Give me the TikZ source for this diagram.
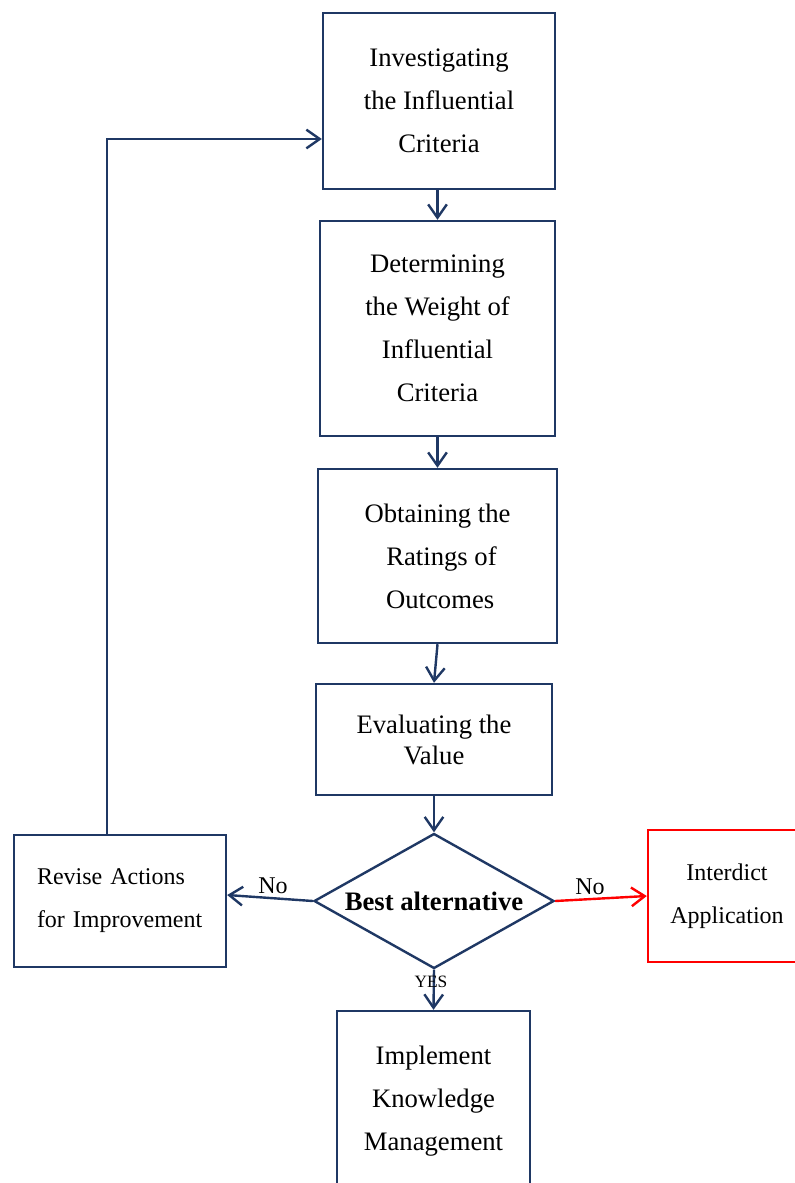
\documentclass[tikz,border=0pt]{standalone}
\usepackage{fontspec}
\setmainfont{Liberation Serif}
\usetikzlibrary{shapes.geometric,arrows.meta}
\definecolor{dblue}{RGB}{31,56,100}
\definecolor{pred}{RGB}{255,0,0}
\begin{document}
\begin{tikzpicture}[x=0.75pt,y=-0.75pt,
  box/.style={draw=dblue,line width=1.8pt,rectangle,inner sep=0pt,align=center,
    font=\fontsize{20}{32.25}\selectfont},
  conn/.style={draw=dblue,line width=1.8pt,-{Straight Barb[length=10pt,width=14pt]}},
  lbl/.style={inner sep=0pt,font=\fontsize{18}{20}\selectfont}]
\useasboundingbox (0,0) rectangle (795,1183);
\clip (0,0) rectangle (795,1183);
\fill[white] (0,0) rectangle (795,1183);

\node[box,minimum width=232*0.75pt,minimum height=176*0.75pt] (b1) at (439,101)
  {Investigating\\the Influential\\Criteria};
\node[box,minimum width=235*0.75pt,minimum height=215*0.75pt] (b2) at (437.5,328.5)
  {Determining\\the Weight of\\Influential\\Criteria};
\node[box,minimum width=239*0.75pt,minimum height=174*0.75pt] (b3) at (437.5,556)
  {Obtaining the\\\hspace*{6pt}Ratings of\\\hspace*{4pt}Outcomes};
\node[box,minimum width=236*0.75pt,minimum height=111*0.75pt,
  font=\fontsize{20}{23.25}\selectfont] (b4) at (434,739.5)
  {Evaluating the\\Value};
\node[draw=dblue,line width=1.8pt,diamond,aspect=1.78,inner sep=0pt,
  minimum width=240*0.75pt,minimum height=135*0.75pt,
  font=\fontsize{20}{24}\selectfont\bfseries] (dia) at (434,901) {Best alternative};
\node[box,minimum width=193*0.75pt,minimum height=180*0.75pt,
  font=\fontsize{20}{32.5}\selectfont] (b5) at (433.5,1101)
  {Implement\\Knowledge\\Management};
\node[box,minimum width=212*0.75pt,minimum height=132*0.75pt,align=left,
  text width=166*0.75pt,inner xsep=23*0.75pt,
  font=\fontsize{18}{32.25}\selectfont] (rev) at (120,901)
  {Revise Actions\\for Improvement};
\node[box,draw=pred,minimum width=158*0.75pt,minimum height=132*0.75pt,
  font=\fontsize{18}{32.25}\selectfont] (int) at (727,896)
  {Interdict\\Application};

\draw[conn] (b2.north |- b1.south) -- (b2.north);
\draw[conn] (b2.south) -- (b3.north -| b2.south);
\draw[conn] (b3.south) -- (b4.north);
\draw[conn] (b4.south) -- (dia.north);
\draw[conn] (dia.south) -- (b5.north);
\draw[conn] (dia.west) -- ([yshift=4.5pt]rev.east);
\draw[conn,draw=pred] (dia.east) -- (int.west);
\draw[conn] ([xshift=-9.75pt]rev.north) |- ([yshift=-28.5pt]b1.west);

\node[lbl] (nol) at (273,886) {No};
\node[lbl] (nor) at (590,887) {No};
\node[inner sep=0pt,font=\fontsize{13}{14}\selectfont] (yes) at (431,982) {YES};
\end{tikzpicture}
\end{document}
